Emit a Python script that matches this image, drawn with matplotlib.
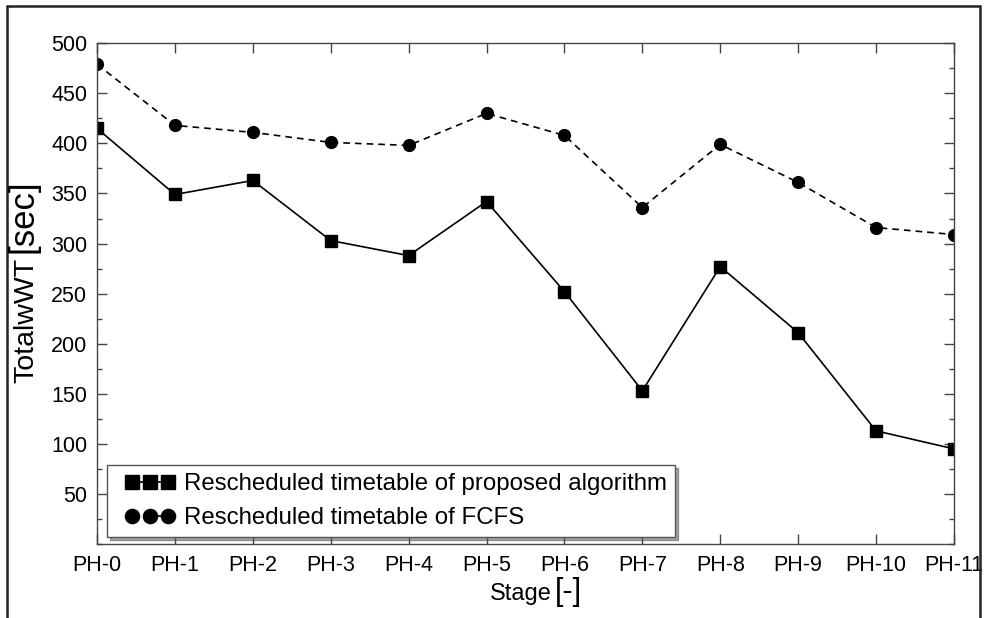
import matplotlib
matplotlib.use('Agg')
import matplotlib.pyplot as plt
from matplotlib.patches import Rectangle
from matplotlib.lines import Line2D
from matplotlib.legend_handler import HandlerLine2D
from matplotlib.ticker import MultipleLocator

plt.rcParams['font.family'] = ['Liberation Sans', 'DejaVu Sans']

# 数据：各阶段的总加权等待时间
stages = ['PH-0', 'PH-1', 'PH-2', 'PH-3', 'PH-4', 'PH-5',
          'PH-6', 'PH-7', 'PH-8', 'PH-9', 'PH-10', 'PH-11']
proposed = [415, 349, 363, 303, 288, 342, 252, 153, 277, 211, 113, 95]
fcfs = [479, 418, 411, 401, 398, 430, 408, 336, 399, 361, 316, 309]
legend_labels = ['Rescheduled timetable of proposed algorithm',
                 'Rescheduled timetable of FCFS']

fig = plt.figure(figsize=(9.86, 6.18), dpi=100)
ax = fig.add_axes([0.0984, 0.1197, 0.8691, 0.8103])

x = range(len(stages))
ax.plot(x, proposed, color='black', lw=1.2, marker='s', markersize=8,
        label=legend_labels[0])
ax.plot(x, fcfs, color='black', lw=1.2, linestyle=(0, (4, 3)), marker='o',
        markersize=8.5, label=legend_labels[1])

ax.set_xlim(0, len(stages) - 1)
ax.set_ylim(0, 500)
ax.set_xticks(list(x))
ax.set_xticklabels(stages)
ax.yaxis.set_minor_locator(MultipleLocator(25))
ax.set_yticks([50, 100, 150, 200, 250, 300, 350, 400, 450, 500])

for s in ax.spines.values():
    s.set_color('#444444')
    s.set_linewidth(1.0)
ax.tick_params(which='both', direction='in', top=True, right=True,
               colors='#444444', labelcolor='black', labelsize=15.5)
ax.tick_params(which='major', length=7, width=1)
ax.tick_params(which='minor', length=3.5, width=1)
ax.tick_params(axis='y', pad=7)
ax.tick_params(axis='x', pad=8)

leg = ax.legend(loc='lower left', bbox_to_anchor=(0.0117, 0.014),
                borderaxespad=0, fontsize=17.3, numpoints=3, handlelength=2.5,
                handletextpad=0.37, borderpad=0.33, labelspacing=0.49,
                markerscale=1.2, fancybox=False, shadow=True, framealpha=1,
                handler_map={Line2D: HandlerLine2D(xpad=0.41)})
leg.get_frame().set_edgecolor('#555555')
leg.get_frame().set_linewidth(1.0)

# 坐标轴标签（两种字号）
fig.text(552 / 986, 1 - 600 / 618, 'Stage', fontsize=17, ha='right',
         va='baseline', rotation_mode='anchor')
fig.text(555 / 986, 1 - 600 / 618, '[-]', fontsize=22, ha='left',
         va='baseline', rotation_mode='anchor')
fig.text(33 / 986, 1 - 258 / 618, 'TotalwWT', fontsize=20.5, rotation=90,
         ha='right', va='baseline', rotation_mode='anchor')
fig.text(33 / 986, 1 - 253 / 618, '[sec]', fontsize=25, rotation=90,
         ha='left', va='baseline', rotation_mode='anchor')

# 外框
fig.patches.append(Rectangle((7 / 986, -0.1), (980 - 7) / 986, 1 - 6 / 618 + 0.1,
                             transform=fig.transFigure, fill=False,
                             edgecolor='#222222', linewidth=1.8))

fig.savefig('out.png', dpi=100)
